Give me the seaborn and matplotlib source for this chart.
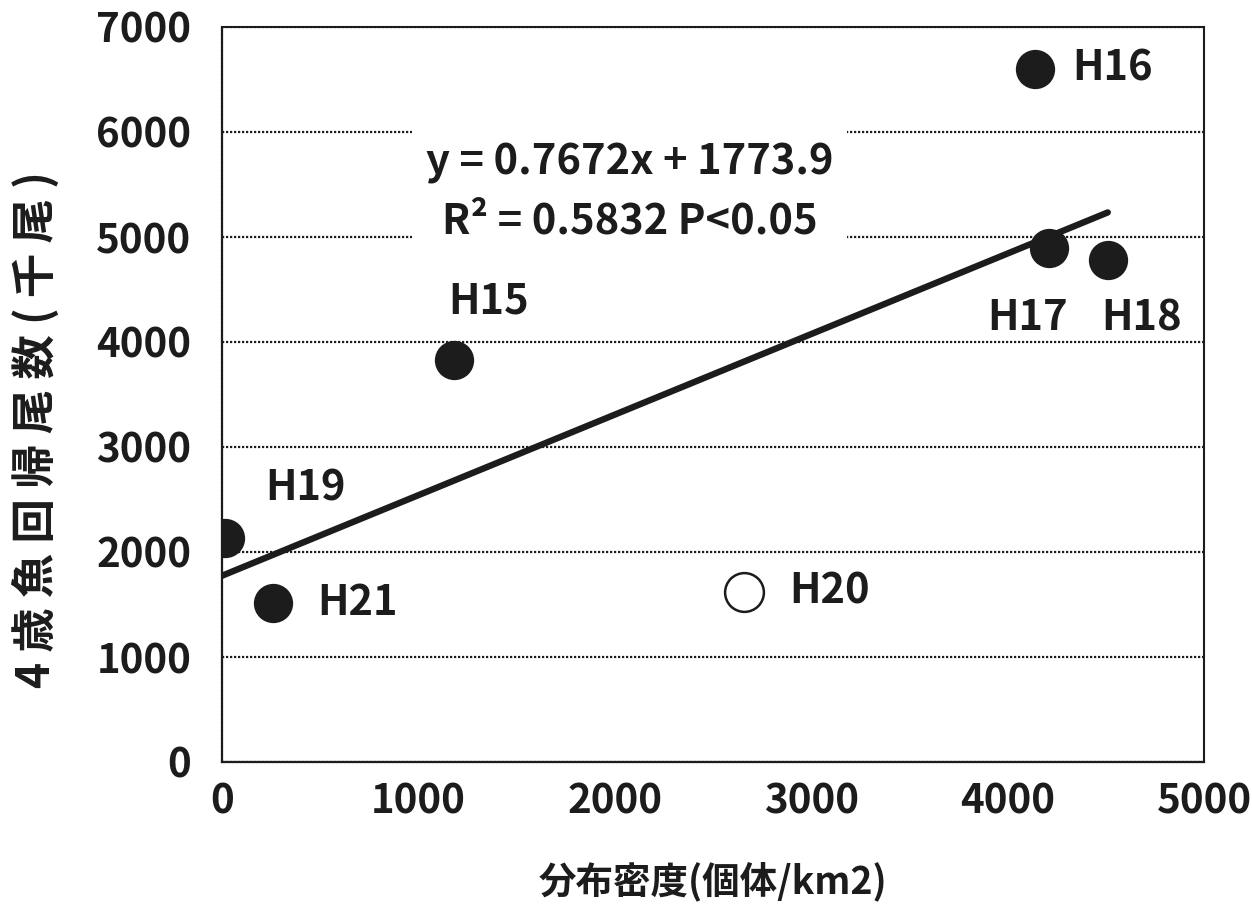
import numpy as np
import pandas as pd
import matplotlib
matplotlib.use("Agg")
import matplotlib.pyplot as plt
import seaborn as sns

# data
years = ["H15", "H16", "H17", "H18", "H19", "H20", "H21"]
density = [1180, 4140, 4210, 4510, 15, 2660, 260]       # 分布密度 (個体/km2)
returns = [3830, 6600, 4900, 4780, 2130, 1620, 1510]    # 4歳魚回帰尾数 (千尾)
excluded = ["H20"]                                      # open circle, not in fit

slope, intercept = 0.7672, 1773.9
r2 = 0.5832

x_ticks = [0, 1000, 2000, 3000, 4000, 5000]
y_ticks = [0, 1000, 2000, 3000, 4000, 5000, 6000, 7000]

df = pd.DataFrame({"year": years, "x": density, "y": returns})
df["used"] = ~df["year"].isin(excluded)

sns.set_style("white")
plt.rcParams["font.family"] = ["Noto Sans CJK JP", "DejaVu Sans"]
plt.rcParams["font.weight"] = "bold"
ink = "#1c1c1c"

fig = plt.figure(figsize=(12.52, 9.16), dpi=100)
ax = fig.add_axes([222 / 1252, 1 - 762 / 916, (1204 - 222) / 1252, (762 - 27) / 916])

# regression line from the printed equation
fit_x = np.array([0, df.loc[df["used"], "x"].max()])
fit = pd.DataFrame({"x": fit_x, "y": slope * fit_x + intercept})
sns.lineplot(data=fit, x="x", y="y", ax=ax, color=ink, lw=4.6, zorder=3)

sns.scatterplot(data=df[df["used"]], x="x", y="y", ax=ax, s=800,
                color=ink, edgecolor=ink, linewidth=0, zorder=4, legend=False)
sns.scatterplot(data=df[~df["used"]], x="x", y="y", ax=ax, s=780,
                facecolor="white", edgecolor=ink, linewidth=1.8, zorder=4, legend=False)

# point labels (offsets in points)
offsets = {
    "H15": (25, 42, "center"),
    "H16": (27, 0, "left"),
    "H17": (-15, -51, "center"),
    "H18": (24, -42, "center"),
    "H19": (58, 36, "center"),
    "H20": (32, 0, "left"),
    "H21": (32, 0, "left"),
}
for _, row in df.iterrows():
    dx, dy, ha = offsets[row["year"]]
    ax.annotate(row["year"], (row["x"], row["y"]), xytext=(dx, dy),
                textcoords="offset points", ha=ha, va="center",
                fontsize=30, fontweight="bold", color=ink, zorder=5)

ax.text(2077, 5430, f"y = {slope}x + {intercept}\nR² = {r2} P<0.05",
        ha="center", va="center", fontsize=30, fontweight="bold",
        color=ink, linespacing=1.5, zorder=2,
        bbox=dict(facecolor="white", edgecolor="none", pad=10))

ax.set_xlim(0, 5000)
ax.set_ylim(0, 7000)
ax.set_xticks(x_ticks)
ax.set_yticks(y_ticks)
ax.yaxis.grid(True, color=ink, linestyle=(0, (1, 0.8)), lw=1.6, zorder=1)
ax.set_axisbelow(True)

for side in ["top", "right"]:
    ax.spines[side].set_color(ink)
    ax.spines[side].set_linewidth(1.5)
for side in ["left", "bottom"]:
    ax.spines[side].set_color(ink)
    ax.spines[side].set_linewidth(1.6)
    ax.spines[side].set_linestyle((0, (1, 0.8)))

ax.tick_params(axis="x", direction="in", length=10, width=1.3, color=ink,
               pad=14, labelsize=29, labelcolor=ink)
ax.tick_params(axis="y", length=0, pad=22, labelsize=29, labelcolor=ink)
for lab in ax.get_xticklabels() + ax.get_yticklabels():
    lab.set_fontweight("bold")

ax.set_xlabel("分布密度(個体/km2)", fontsize=27, fontweight="bold", color=ink)
ax.set_ylabel(" ".join("4歳魚回帰尾数(千尾)"), fontsize=32, fontweight="bold", color=ink)
ax.xaxis.set_label_coords(0.50, -0.137)
ax.yaxis.set_label_coords(-0.165, 0.452)

fig.savefig("out.png", dpi=100, facecolor="white")
